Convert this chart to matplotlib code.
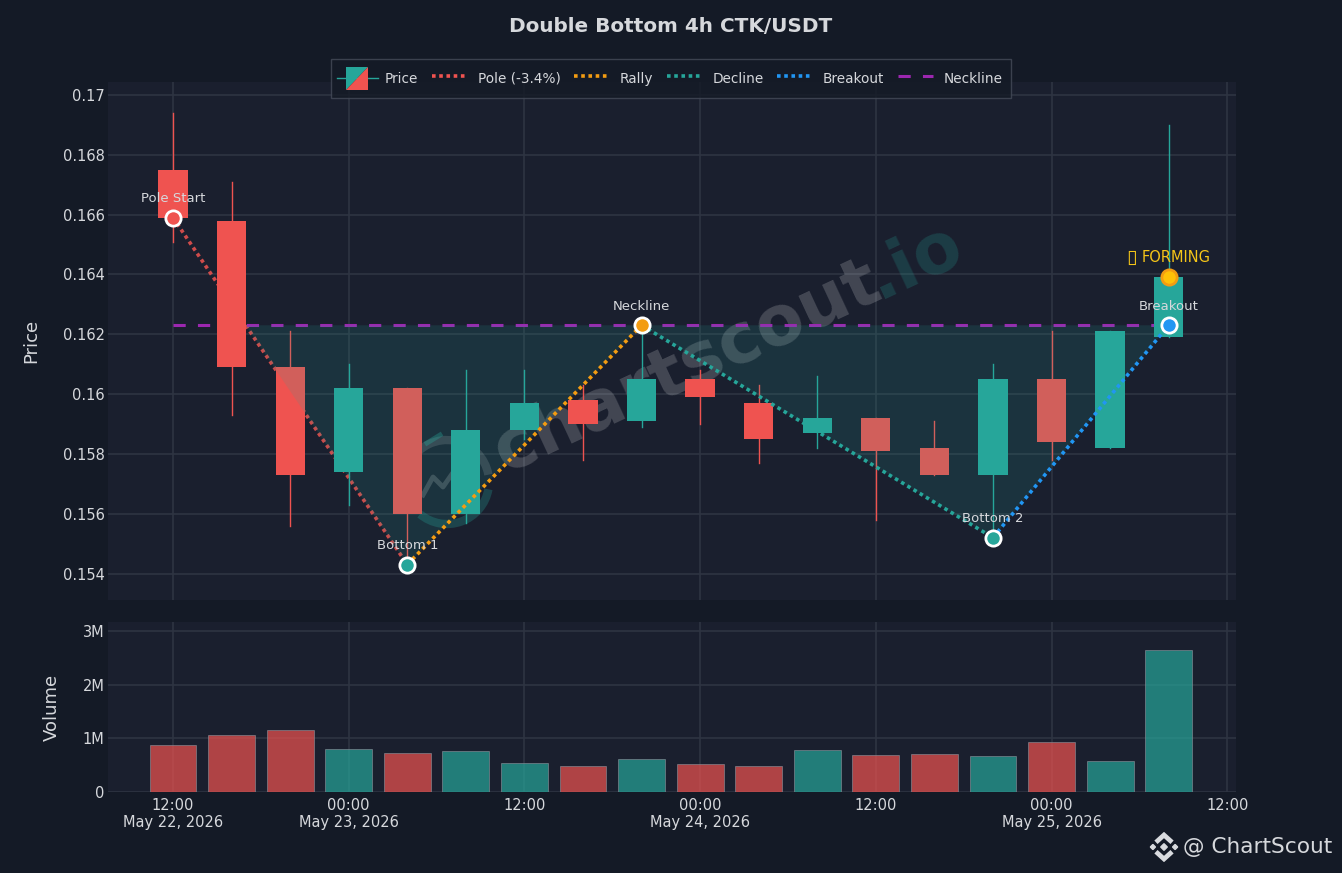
import numpy as np
from datetime import datetime, timedelta
import matplotlib
matplotlib.use('Agg')
import matplotlib.pyplot as plt
import matplotlib.dates as mdates
import matplotlib.patches as patches
from matplotlib.lines import Line2D
from matplotlib.legend_handler import HandlerBase
from matplotlib.ticker import FuncFormatter, FixedLocator
from matplotlib.transforms import Affine2D

# data
start_time = datetime(2026, 5, 22, 12)
opens = [0.1675, 0.1658, 0.1609, 0.1574, 0.1602, 0.1560, 0.1588, 0.1598, 0.1591,
         0.1605, 0.1597, 0.1587, 0.1592, 0.1582, 0.1573, 0.1605, 0.1582, 0.1619]
highs = [0.1694, 0.1671, 0.1621, 0.1610, 0.1602, 0.1608, 0.1608, 0.1603, 0.1623,
         0.1608, 0.1603, 0.1606, 0.1592, 0.1591, 0.1610, 0.1621, 0.1621, 0.1690]
lows = [0.1651, 0.1593, 0.1556, 0.1563, 0.1543, 0.1557, 0.1585, 0.1578, 0.1589,
        0.1590, 0.1577, 0.1582, 0.1558, 0.1573, 0.1552, 0.1578, 0.1582, 0.1619]
closes = [0.1659, 0.1609, 0.1573, 0.1602, 0.1560, 0.1588, 0.1597, 0.1590, 0.1605,
          0.1599, 0.1585, 0.1592, 0.1581, 0.1573, 0.1605, 0.1584, 0.1621, 0.1639]
volumes = [0.88e6, 1.06e6, 1.15e6, 0.80e6, 0.73e6, 0.77e6, 0.54e6, 0.49e6, 0.62e6,
           0.53e6, 0.48e6, 0.78e6, 0.69e6, 0.71e6, 0.68e6, 0.93e6, 0.57e6, 2.65e6]

pole_start = (0, 0.1659)
bottom_1 = (4, 0.1543)
neck_peak = (8, 0.1623)
bottom_2 = (14, 0.1552)
breakout = (17, 0.1623)
forming = (17, 0.1639)
neckline = 0.1623
pole_pct = -3.4

price_ticks = [0.154, 0.156, 0.158, 0.16, 0.162, 0.164, 0.166, 0.168, 0.17]
volume_ticks = [0, 1e6, 2e6, 3e6]

BG = '#141a26'
PANEL = '#1a1f2e'
GRID = '#2e3442'
TEXT = '#d6d8dc'
UP = '#26a69a'
DOWN = '#ef5350'
ORANGE = '#f39c12'
BLUE = '#2196f3'
PURPLE = '#9c27b0'
GOLD = '#ffc107'

times = [start_time + timedelta(hours=4 * i) for i in range(len(opens))]
xs = mdates.date2num(times)
step = xs[1] - xs[0]


def t(idx):
    return xs[0] + idx * step


fig = plt.figure(figsize=(13.42, 8.73), dpi=100, facecolor=BG)
W, H = 1342.0, 873.0
ax = fig.add_axes([108 / W, 1 - 600 / H, 1128 / W, 518 / H], facecolor=PANEL)
ax2 = fig.add_axes([108 / W, 1 - 792 / H, 1128 / W, 170 / H], facecolor=PANEL, sharex=ax)

for a in (ax, ax2):
    for s in a.spines.values():
        s.set_visible(False)
    a.grid(True, color=GRID, linewidth=1.2, zorder=0)
    a.set_axisbelow(True)
    a.tick_params(length=0, colors=TEXT, labelsize=10.5, pad=2.5)

# picture pixels, y down, for the things that are not data
to_px = Affine2D().scale(1, -1).translate(0, H) + fig.transFigure.inverted().frozen() + fig.transFigure

# watermark text, the two parts meet on the baseline
ax.text(885, 296, 'chartscout', transform=to_px, rotation=25, fontsize=50, fontweight='bold',
        color='#ffffff', alpha=0.18, ha='right', va='baseline', rotation_mode='anchor', zorder=1)
ax.text(878, 299, '.io', transform=to_px, rotation=25, fontsize=50, fontweight='bold',
        color=UP, alpha=0.22, ha='left', va='baseline', rotation_mode='anchor', zorder=1)

# watermark logo
ax.add_patch(patches.Arc((447, 482), 84, 84, theta1=-150, theta2=-10, color='#ffffff', alpha=0.14,
                         lw=6, transform=to_px, zorder=1))
ax.add_patch(patches.Arc((447, 482), 84, 84, theta1=10, theta2=130, color=UP, alpha=0.28,
                         lw=6, transform=to_px, zorder=1))
ax.plot([423, 433, 443, 452], [495, 477, 487, 474], color='#ffffff', alpha=0.18, lw=3.5,
        transform=to_px, zorder=1)
ax.plot([427, 440], [443, 435], color=UP, alpha=0.35, lw=3.5, transform=to_px, zorder=1)

# candles
body_w = step * 0.5
for i, x in enumerate(xs):
    col = UP if closes[i] >= opens[i] else DOWN
    ax.plot([x, x], [lows[i], highs[i]], color=col, linewidth=1.0, zorder=3)
    ax.add_patch(patches.Rectangle((x - body_w / 2, min(opens[i], closes[i])), body_w,
                                   abs(closes[i] - opens[i]), facecolor=col,
                                   edgecolor='none', zorder=3))

# pattern shading, two triangles under the neckline
cross_x = pole_start[0] + (pole_start[1] - neckline) / (pole_start[1] - bottom_1[1]) * (bottom_1[0] - pole_start[0])
ax.fill([t(cross_x), t(bottom_1[0]), t(neck_peak[0])], [neckline, bottom_1[1], neck_peak[1]],
        color=UP, alpha=0.15, linewidth=0, zorder=4)
ax.fill([t(neck_peak[0]), t(bottom_2[0]), t(breakout[0])], [neck_peak[1], bottom_2[1], breakout[1]],
        color=UP, alpha=0.15, linewidth=0, zorder=4)

dots = (0, (1, 1))
ax.plot([t(pole_start[0]), t(bottom_1[0])], [pole_start[1], bottom_1[1]], color=DOWN, lw=2.6,
        ls=dots, alpha=0.85, zorder=2.5)
ax.plot([t(bottom_1[0]), t(neck_peak[0])], [bottom_1[1], neck_peak[1]], color=ORANGE, lw=2.6,
        ls=dots, zorder=5)
ax.plot([t(neck_peak[0]), t(bottom_2[0])], [neck_peak[1], bottom_2[1]], color=UP, lw=2.6,
        ls=dots, zorder=5)
ax.plot([t(bottom_2[0]), t(breakout[0])], [bottom_2[1], breakout[1]], color=BLUE, lw=2.6,
        ls=dots, zorder=5)
ax.plot([t(pole_start[0]), t(breakout[0])], [neckline, neckline], color=PURPLE, lw=2.2,
        ls=(0, (4, 4)), zorder=2.8)

# pivots
pivots = [(pole_start, DOWN, 'Pole Start'), (bottom_1, UP, 'Bottom 1'), (neck_peak, ORANGE, 'Neckline'),
          (bottom_2, UP, 'Bottom 2'), (breakout, BLUE, 'Breakout')]
for (px, py), col, label in pivots:
    ax.plot(t(px), py, 'o', ms=11, mfc=col, mec='white', mew=2, zorder=7)
    ax.annotate(label, (t(px), py), xytext=(0, 9), textcoords='offset points', ha='center',
                va='bottom', color=TEXT, fontsize=9.5, zorder=8)
ax.plot(t(forming[0]), forming[1], 'o', ms=11, mfc=GOLD, mec=ORANGE, mew=2, zorder=7)
ax.annotate('FORMING', (t(forming[0]), forming[1]), xytext=(-19.8, 9), textcoords='offset points',
            ha='left', va='bottom', color='#f5c518', fontsize=10.5, zorder=8)
ax.annotate('\u25af', (t(forming[0]), forming[1]), xytext=(-27, 7.5), textcoords='offset points',
            ha='center', va='bottom', color='#f5c518', fontsize=14, zorder=8)

# volume
bar_cols = [UP if c >= o else DOWN for o, c in zip(opens, closes)]
ax2.bar(xs, volumes, width=step * 0.8, color=bar_cols, alpha=0.7, edgecolor='#8a8f99',
        linewidth=0.6, zorder=3)

# axes
ax.set_xlim(t(-1.11), t(18.15))
ax.set_ylim(0.153114, 0.170435)
ax2.set_ylim(0, 3.17e6)
ax.yaxis.set_major_locator(FixedLocator(price_ticks))
ax.yaxis.set_major_formatter(FuncFormatter(lambda v, p: f'{v:g}'))
ax2.yaxis.set_major_locator(FixedLocator(volume_ticks))
ax2.yaxis.set_major_formatter(FuncFormatter(lambda v, p: '0' if v == 0 else f'{v / 1e6:.0f}M'))
ax2.xaxis.set_major_locator(mdates.HourLocator(byhour=[0, 12]))


def date_label(v, p):
    d = mdates.num2date(v)
    if d.hour == 0 or abs(v - xs[0]) < 1e-6:
        return d.strftime('%H:%M\n%b %d, %Y')
    return d.strftime('%H:%M')


ax2.xaxis.set_major_formatter(FuncFormatter(date_label))
ax.tick_params(labelbottom=False)
ax2.tick_params(axis='x', pad=4)
ax.set_ylabel('Price', color=TEXT, fontsize=13)
ax2.set_ylabel('Volume', color=TEXT, fontsize=13)
ax.yaxis.set_label_coords((40 - 108) / 1128, 0.5)
ax2.yaxis.set_label_coords((61 - 108) / 1128, 0.5)
fig.text(671 / W, 1 - 27 / H, 'Double Bottom 4h CTK/USDT', color=TEXT, fontsize=14.4, fontweight='bold',
         ha='center', va='center')


# legend
class CandleHandler(HandlerBase):
    def create_artists(self, legend, orig, xd, yd, width, height, fontsize, trans):
        y = height / 2 - yd
        s = 16
        x0 = width / 2 - s / 2
        y0 = y - s / 2
        wick = Line2D([-2, width + 2], [y, y], color=UP, lw=1, transform=trans)
        lo = patches.Polygon([[x0, y0], [x0 + s, y0], [x0 + s, y0 + s]], facecolor=DOWN, transform=trans)
        up = patches.Polygon([[x0, y0], [x0, y0 + s], [x0 + s, y0 + s]], facecolor=UP, transform=trans)
        return [wick, up, lo]


handles = [Line2D([], [], label='Price'),
           Line2D([], [], color=DOWN, lw=2.6, ls=dots, label=f'Pole ({pole_pct}%)'),
           Line2D([], [], color=ORANGE, lw=2.6, ls=dots, label='Rally'),
           Line2D([], [], color=UP, lw=2.6, ls=dots, label='Decline'),
           Line2D([], [], color=BLUE, lw=2.6, ls=dots, label='Breakout'),
           Line2D([], [], color=PURPLE, lw=2.2, ls=(0, (4, 4)), label='Neckline')]
leg = fig.legend(handles=handles, handler_map={handles[0]: CandleHandler()}, ncol=6, loc='center',
                 bbox_to_anchor=(671 / W, 1 - 78.5 / H), frameon=True, fancybox=False, facecolor=BG,
                 edgecolor='#454b59', fontsize=9.8, labelcolor=TEXT, handlelength=2.6, columnspacing=1.0,
                 handletextpad=0.75, borderpad=0.65, handleheight=1.95, borderaxespad=0)
leg.set_zorder(20)

# exchange logo and credit
logo = fig.add_axes([1149 / W, 1 - 862 / H, 30 / W, 30 / H])
logo.set_xlim(-1, 1)
logo.set_ylim(-1, 1)
logo.axis('off')
logo_col = '#d9dbdf'
for cx, cy, r in [(0, 0, 0.22), (-0.74, 0, 0.17), (0.74, 0, 0.17)]:
    logo.add_patch(patches.RegularPolygon((cx, cy), 4, radius=r, orientation=0, color=logo_col))
logo.plot([-0.42, 0, 0.42], [0.42, 0.8, 0.42], color=logo_col, lw=3.4, solid_joinstyle='miter')
logo.plot([-0.42, 0, 0.42], [-0.42, -0.8, -0.42], color=logo_col, lw=3.4, solid_joinstyle='miter')
fig.text(1183 / W, 1 - 847 / H, '@ ChartScout', color=TEXT, fontsize=15.6, ha='left', va='center')

fig.savefig('out.png', dpi=100, facecolor=BG)
